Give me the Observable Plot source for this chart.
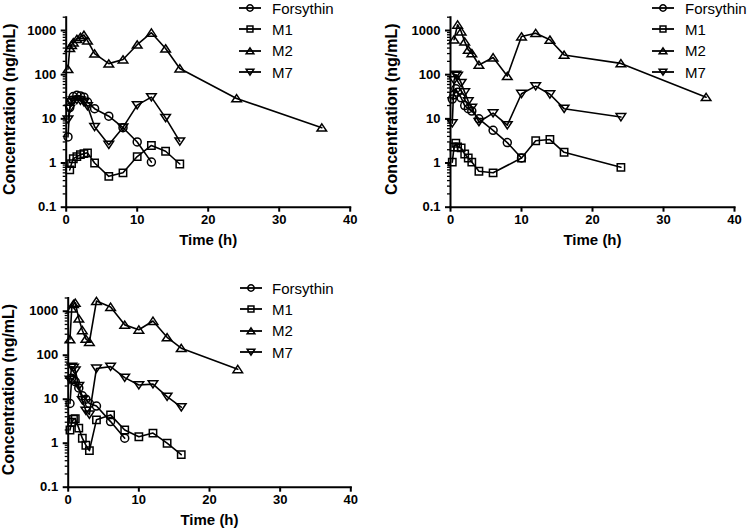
<!DOCTYPE html>
<html><head><meta charset="utf-8">
<script src="https://cdn.jsdelivr.net/npm/d3@7"></script>
<script src="https://cdn.jsdelivr.net/npm/@observablehq/plot@0.6"></script>
<style>
html,body{margin:0;padding:0;background:#fff;}
#root{position:relative;width:748px;height:532px;overflow:hidden;font-family:"Liberation Sans",Arial,sans-serif;}
.panel{position:absolute;}
.legend{position:absolute;font-size:15px;color:#000;}
.legend .row{position:absolute;left:0;height:20px;white-space:nowrap;}
.legend svg{position:absolute;left:0;top:0;}
.legend span{position:absolute;top:2.5px;line-height:15px;}
</style></head><body><div id="root"></div>
<script>
// ---- data ----
const times = [0.25, 0.5, 0.75, 1, 1.5, 2, 2.5, 3, 4, 6, 8, 10, 12, 14, 16, 24, 36];
const seriesNames = ["Forsythin", "M1", "M2", "M7"];
const xTicks = [0, 10, 20, 30, 40];
const yTicks = [0.1, 1, 10, 100, 1000];

// panel A (top left)
const A_Forsythin = [3.9, 18, 26, 32, 34, 33, 31, 24, 17, 11.5, 6.3, 3.0, 1.05, null, null, null, null];
const A_M1 = [null, 0.7, 0.97, 1.25, 1.4, 1.55, 1.63, 1.7, 1.0, 0.5, 0.6, 1.4, 2.5, 1.85, 0.95, null, null];
const A_M2 = [133, 400, 470, 535, 640, 710, 790, 590, 300, 178, 220, 477, 890, 390, 138, 29, 6.3];
const A_M7 = [9.7, 17, 24, 26, 27, 26, 24, 19.5, 6.6, 2.6, 6.4, 20.5, 31, 10.5, 3.1, null, null];
// panel B (top right)
const B_Forsythin = [28, 35, 48, 40, 30, 20, 17, 15, 10, 5.5, 2.9, 1.3, null, null, null, null, null];
const B_M1 = [1.05, 2.3, 2.8, 2.3, 2.2, 1.6, 1.3, 1.05, 0.65, 0.6, null, 1.3, 3.2, 3.4, 1.75, 0.8, null];
const B_M2 = [null, 620, null, 1350, 950, 560, 365, 305, 166, 245, 93, 730, 870, 615, 280, 180, 31];
const B_M7 = [8, 75, 100, 95, 65, 40, 25, 18, 8.5, 13.5, 7.2, 37, 55, 36, 17, 11, null];
// panel C (bottom left)
const C_Forsythin = [8, 30, 28, 25, 18, 12, 10, 8, 7, 3.1, 1.3, null, null, null, null, null, null];
const C_M1 = [2.0, 3.0, 3.5, 3.6, 2.2, 1.3, 0.9, 0.68, 3.4, 4.4, 2.0, 1.4, 1.7, 1.0, 0.55, null, null];
const C_M2 = [230, 1150, 1450, 1550, 680, 370, 235, 200, 1700, 1250, 490, 380, 600, 255, 145, 48, null];
const C_M7 = [28, 55, 52, 45, 20, 9.5, 5.5, 4.5, 50, 55, 31, 21, 22, 11.5, 6.6, null, null];

// ---- symbols ----
const symCircle = {draw(ctx, size){const r=Math.sqrt(size/Math.PI); ctx.moveTo(r,0); ctx.arc(0,0,r,0,2*Math.PI);}};
const symSquare = {draw(ctx, size){const r=Math.sqrt(size/Math.PI)*0.92; ctx.rect(-r,-r,2*r,2*r);}};
const symTriUp = {draw(ctx, size){const r=Math.sqrt(size/Math.PI); ctx.moveTo(0,-r*0.95); ctx.lineTo(r*1.2,r*0.85); ctx.lineTo(-r*1.2,r*0.85); ctx.closePath();}};
const symTriDown = {draw(ctx, size){const r=Math.sqrt(size/Math.PI); ctx.moveTo(0,r*0.95); ctx.lineTo(r*1.2,-r*0.85); ctx.lineTo(-r*1.2,-r*0.85); ctx.closePath();}};
const symbols = [symCircle, symSquare, symTriUp, symTriDown];

const minorTicks = [];
for (let e = -1; e <= 2; e++) for (let k = 2; k <= 9; k++) minorTicks.push(+(k * Math.pow(10, e)).toPrecision(3));
minorTicks.push(2000);

const font = "Liberation Sans, Arial, sans-serif";

const panels = [
  {left:0, top:0, width:374, height:252, mL:65.7, mR:24.3, mT:16.7, mB:45.3, ylab:-62.7,
   series:[A_Forsythin, A_M1, A_M2, A_M7], legend:{x:239, y:8, text:272}},
  {left:382, top:0, width:366, height:252, mL:68, mR:14, mT:16.7, mB:45.3, ylab:-65,
   series:[B_Forsythin, B_M1, B_M2, B_M7], legend:{x:652, y:8, text:685}},
  {left:0, top:280, width:374, height:252, mL:67.7, mR:23.7, mT:17.5, mB:45.3, ylab:-65.7,
   series:[C_Forsythin, C_M1, C_M2, C_M7], legend:{x:240, y:288, text:272}}
];

const root = document.getElementById("root");

for (const p of panels) {
  const rows = [];
  p.series.forEach((vals, si) => {
    vals.forEach((v, i) => { if (v != null) rows.push({t: times[i], v, s: seriesNames[si]}); });
  });
  const marks = [
    Plot.frame({anchor:"left", strokeWidth:2}),
    Plot.frame({anchor:"bottom", strokeWidth:2}),
    Plot.axisX({ticks:xTicks, tickSize:5, tickPadding:3, fontSize:13, fontWeight:"bold", strokeWidth:2, label:null, tickFormat:d=>String(d)}),
    Plot.axisY({ticks:yTicks, tickSize:5, tickPadding:5, fontSize:13, fontWeight:"bold", strokeWidth:2, label:null, tickFormat:d=>String(d)}),
    Plot.axisY({ticks:minorTicks, tickSize:3, strokeWidth:1.3, label:null, tickFormat:()=>""}),
    Plot.line(rows, {x:"t", y:"v", z:"s", stroke:"black", strokeWidth:1.6}),
    ...seriesNames.map((name, si) => Plot.dot(rows.filter(d => d.s === name), {x:"t", y:"v", r:4, symbol:symbols[si], stroke:"black", strokeWidth:1.5, fill:"none"})),
    Plot.text(["Time (h)"], {frameAnchor:"bottom", textAnchor:"middle", lineAnchor:"top", dy:27.5, fontSize:15, fontWeight:"bold"}),
    Plot.text(["Concentration (ng/mL)"], {frameAnchor:"left", textAnchor:"middle", rotate:-90, lineAnchor:"top", dx:p.ylab, dy:-3, fontSize:16, fontWeight:"bold"})
  ];
  const chart = Plot.plot({
    width:p.width, height:p.height,
    marginLeft:p.mL, marginRight:p.mR, marginTop:p.mT, marginBottom:p.mB,
    x:{domain:[0,40]},
    y:{type:"log", domain:[0.1,2000]},
    style:{fontFamily:font, fontSize:"13px", color:"black", background:"white", overflow:"visible"},
    marks
  });
  const wrap = document.createElement("div");
  wrap.className = "panel";
  wrap.style.left = p.left + "px";
  wrap.style.top = p.top + "px";
  wrap.appendChild(chart);
  root.appendChild(wrap);

  // legend
  const lg = document.createElement("div");
  lg.className = "legend";
  lg.style.left = p.legend.x + "px";
  lg.style.top = "0px";
  seriesNames.forEach((name, si) => {
    const row = document.createElement("div");
    row.className = "row";
    row.style.top = (p.legend.y + si * 21.4 - 10) + "px";
    const path = d3.path();
    symbols[si].draw(path, 3.2 * 3.2 * Math.PI);
    const ns = "http://www.w3.org/2000/svg";
    const svg = document.createElementNS(ns, "svg");
    svg.setAttribute("width", "24"); svg.setAttribute("height", "20");
    const ln = document.createElementNS(ns, "line");
    ln.setAttribute("x1", "0"); ln.setAttribute("x2", "22"); ln.setAttribute("y1", "10"); ln.setAttribute("y2", "10");
    ln.setAttribute("stroke", "black"); ln.setAttribute("stroke-width", "1.8");
    const sp = document.createElementNS(ns, "path");
    sp.setAttribute("d", path.toString());
    sp.setAttribute("transform", "translate(11,10)");
    sp.setAttribute("fill", "none"); sp.setAttribute("stroke", "black"); sp.setAttribute("stroke-width", "1.5");
    svg.appendChild(ln); svg.appendChild(sp);
    row.appendChild(svg);
    const tx = document.createElement("span");
    tx.textContent = name;
    tx.style.left = (p.legend.text - p.legend.x) + "px";
    row.appendChild(tx);
    lg.appendChild(row);
  });
  root.appendChild(lg);
}
</script></body></html>
